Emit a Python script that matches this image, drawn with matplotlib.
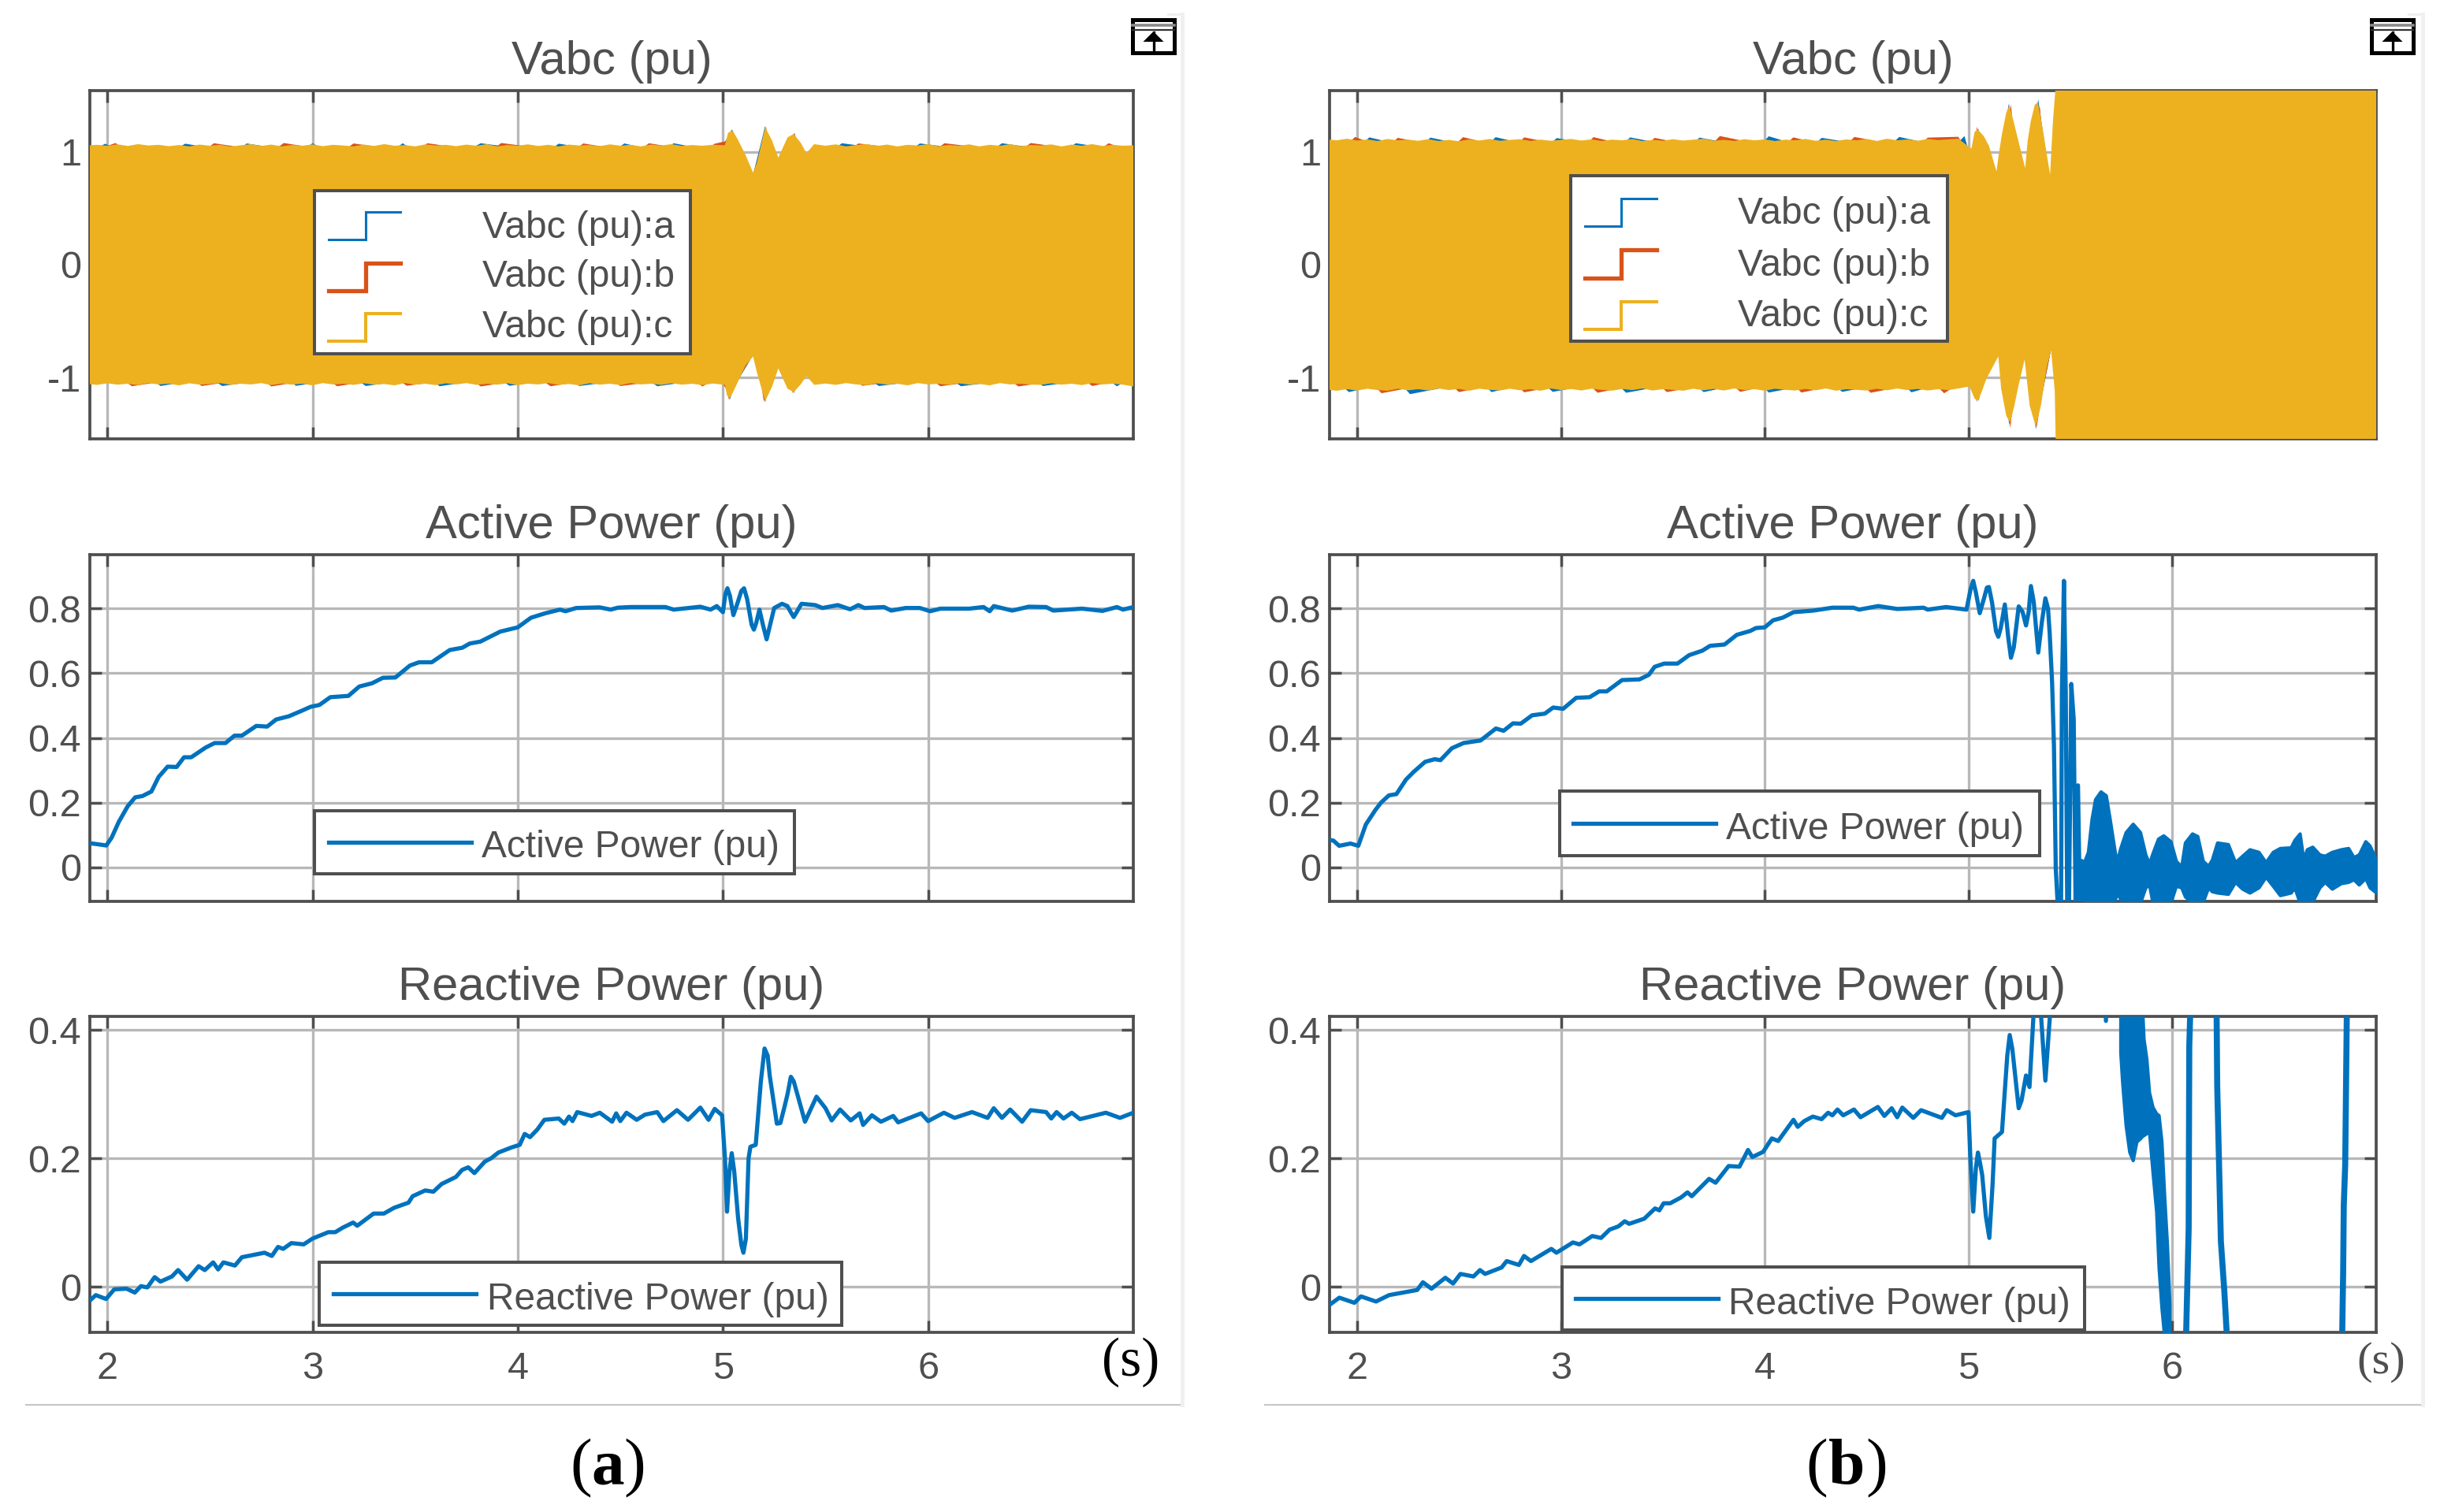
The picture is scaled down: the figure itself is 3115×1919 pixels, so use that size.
import matplotlib
matplotlib.use('Agg')
import matplotlib.pyplot as plt
from matplotlib.patches import Rectangle, Polygon
from matplotlib.lines import Line2D

plt.rcParams['font.family'] = ['Liberation Sans', 'DejaVu Sans']

W, H = 3115, 1919
GRAY = '#4f4f4f'
BLUE = '#0072BD'
ORANGE = '#D95319'
YELLOW = '#EDB120'

# ---- values ----
x_ticks = [2, 3, 4, 5, 6]
v_ticks = [-1, 0, 1]
v_labels = ['-1', '0', '1']
p_ticks = [0, 0.2, 0.4, 0.6, 0.8]
p_labels = ['0', '0.2', '0.4', '0.6', '0.8']
q_ticks = [0, 0.2, 0.4]
q_labels = ['0', '0.2', '0.4']

# (a) voltage envelopes
a_vc_up_t = [1.915, 1.95, 2.0, 2.05, 2.1, 2.15, 2.2, 2.25, 2.3, 2.35, 2.4, 2.45, 2.5, 2.55, 2.6, 2.65, 2.7, 2.75, 2.8, 2.85, 2.9, 2.95,
             3.0, 3.05, 3.1, 3.15, 3.2, 3.25, 3.3, 3.35, 3.4, 3.45, 3.5, 3.55, 3.6, 3.65, 3.7, 3.75, 3.8, 3.85, 3.9, 3.95,
             4.0, 4.05, 4.1, 4.15, 4.2, 4.25, 4.3, 4.35, 4.4, 4.45, 4.5, 4.55, 4.6, 4.65, 4.7, 4.75, 4.8, 4.85, 4.9, 4.95, 5.01,
             5.025, 5.047, 5.07, 5.11, 5.147, 5.165, 5.206, 5.24, 5.27, 5.315, 5.345, 5.38, 5.407, 5.445,
             5.5, 5.55, 5.6, 5.65, 5.7, 5.75, 5.8, 5.85, 5.9, 5.95, 6.0, 6.05, 6.1, 6.15, 6.2, 6.25, 6.3, 6.35, 6.4, 6.45, 6.5,
             6.55, 6.6, 6.65, 6.7, 6.75, 6.8, 6.85, 6.9, 6.95, 7.0]
a_vc_up_v = [1.06, 1.064, 1.056, 1.068, 1.054, 1.07, 1.058, 1.064, 1.052, 1.062, 1.05, 1.066, 1.056, 1.064, 1.048, 1.06, 1.07, 1.054, 1.066, 1.05, 1.062,
             1.056, 1.068, 1.052, 1.064, 1.058, 1.05, 1.066, 1.054, 1.07, 1.056, 1.062, 1.05, 1.068, 1.058, 1.064, 1.052, 1.066, 1.056, 1.07,
             1.05, 1.062, 1.056, 1.068, 1.054, 1.064, 1.05, 1.066, 1.058, 1.062, 1.052, 1.068, 1.056, 1.064, 1.05, 1.066, 1.058, 1.07, 1.054, 1.062, 1.056, 1.064, 1.06,
             1.17, 1.19, 1.12, 0.976, 0.817, 0.90, 1.22, 1.10, 0.95, 1.13, 1.16, 1.08, 0.99, 1.07,
             1.056, 1.068, 1.05, 1.062, 1.07, 1.054, 1.066, 1.05, 1.064, 1.058, 1.07, 1.052, 1.062, 1.056, 1.068, 1.05, 1.064, 1.056, 1.07, 1.052, 1.062,
             1.058, 1.068, 1.05, 1.066, 1.056, 1.07, 1.054, 1.064, 1.056, 1.06]
a_vc_lo_t = [1.915, 1.95, 2.0, 2.05, 2.1, 2.15, 2.2, 2.25, 2.3, 2.35, 2.4, 2.45, 2.5, 2.55, 2.6, 2.65, 2.7, 2.75, 2.8, 2.85, 2.9, 2.95,
             3.0, 3.05, 3.1, 3.15, 3.2, 3.25, 3.3, 3.35, 3.4, 3.45, 3.5, 3.55, 3.6, 3.65, 3.7, 3.75, 3.8, 3.85, 3.9, 3.95,
             4.0, 4.05, 4.1, 4.15, 4.2, 4.25, 4.3, 4.35, 4.4, 4.45, 4.5, 4.55, 4.6, 4.65, 4.7, 4.75, 4.8, 4.85, 4.9, 4.95, 5.01,
             5.02, 5.034, 5.055, 5.11, 5.147, 5.165, 5.206, 5.24, 5.27, 5.315, 5.345, 5.38, 5.407, 5.445,
             5.5, 5.55, 5.6, 5.65, 5.7, 5.75, 5.8, 5.85, 5.9, 5.95, 6.0, 6.05, 6.1, 6.15, 6.2, 6.25, 6.3, 6.35, 6.4, 6.45, 6.5,
             6.55, 6.6, 6.65, 6.7, 6.75, 6.8, 6.85, 6.9, 6.95, 7.0]
a_vc_lo_v = [-1.06, -1.066, -1.052, -1.064, -1.056, -1.068, -1.05, -1.062, -1.056, -1.07, -1.052, -1.064, -1.058, -1.05, -1.066, -1.056, -1.062, -1.05, -1.068, -1.054,
             -1.064, -1.056, -1.07, -1.05, -1.062, -1.056, -1.066, -1.052, -1.064, -1.058, -1.07, -1.05, -1.064, -1.056, -1.068, -1.052, -1.062, -1.05, -1.066, -1.056,
             -1.064, -1.052, -1.068, -1.056, -1.062, -1.05, -1.066, -1.058, -1.07, -1.052, -1.064, -1.056, -1.068, -1.05, -1.062, -1.056, -1.066, -1.052, -1.064, -1.056, -1.068, -1.054, -1.066,
             -1.16, -1.186, -1.11, -0.894, -0.814, -0.95, -1.21, -1.08, -0.92, -1.10, -1.13, -1.06, -0.987, -1.066,
             -1.054, -1.066, -1.05, -1.062, -1.068, -1.052, -1.064, -1.056, -1.07, -1.05, -1.062, -1.056, -1.066, -1.052, -1.064, -1.058, -1.07, -1.05, -1.062, -1.056, -1.064,
             -1.066, -1.052, -1.064, -1.056, -1.068, -1.05, -1.062, -1.056, -1.064, -1.08]
a_va_up_t = [1.915, 1.99, 2.07, 2.31, 2.38, 2.62, 2.68, 2.94, 3.0, 3.08, 3.38, 3.44, 3.5, 3.74, 3.82, 4.14, 4.2, 4.46, 4.52, 4.7, 4.76, 4.98,
             5.03, 5.045, 5.065, 5.147, 5.195, 5.205, 5.215, 5.27, 5.335, 5.345, 5.355, 5.407, 5.445, 5.52, 5.58, 5.9, 5.96, 6.3, 6.36, 6.66, 6.72, 7.0]
a_va_up_v = [1.0, 1.074, 1.0, 1.0, 1.074, 1.0, 1.076, 1.0, 1.078, 1.0, 1.0, 1.078, 1.0, 1.0, 1.078, 1.0, 1.074, 1.0, 1.076, 1.0, 1.078, 1.0,
             1.15, 1.2, 1.12, 0.8, 1.15, 1.23, 1.15, 0.9, 1.1, 1.17, 1.1, 0.95, 1.0, 1.0, 1.078, 1.0, 1.076, 1.0, 1.078, 1.0, 1.078, 1.0]
a_va_lo_t = [1.915, 2.2, 2.26, 2.5, 2.56, 2.86, 2.92, 3.2, 3.26, 3.56, 3.62, 3.9, 3.96, 4.24, 4.3, 4.62, 4.68, 4.98,
             5.02, 5.035, 5.05, 5.147, 5.195, 5.207, 5.22, 5.27, 5.335, 5.346, 5.36, 5.407, 5.445, 5.7, 5.76, 6.1, 6.16, 6.5, 6.56, 6.86, 6.92, 7.0]
a_va_lo_v = [-1.0, -1.0, -1.076, -1.0, -1.076, -1.0, -1.074, -1.0, -1.076, -1.0, -1.078, -1.0, -1.074, -1.0, -1.076, -1.0, -1.078, -1.0,
             -1.1, -1.195, -1.1, -0.8, -1.1, -1.22, -1.1, -0.9, -1.08, -1.14, -1.06, -0.95, -1.0, -1.0, -1.076, -1.0, -1.078, -1.0, -1.076, -1.0, -1.078, -1.0]
a_vb_up_t = [1.915, 2.04, 2.1, 2.46, 2.52, 2.8, 2.86, 3.14, 3.2, 3.5, 3.56, 3.86, 3.92, 4.26, 4.32, 4.58, 4.64, 4.9, 4.96,
             5.025, 5.04, 5.06, 5.147, 5.2, 5.21, 5.22, 5.27, 5.34, 5.35, 5.36, 5.407, 5.445, 5.6, 5.66, 6.02, 6.08, 6.44, 6.5, 6.82, 6.88, 7.0]
a_vb_up_v = [1.0, 1.08, 1.0, 1.0, 1.078, 1.0, 1.08, 1.0, 1.076, 1.0, 1.078, 1.0, 1.08, 1.0, 1.076, 1.0, 1.078, 1.0, 1.074,
             1.1, 1.195, 1.1, 0.8, 1.12, 1.23, 1.1, 0.9, 1.08, 1.17, 1.08, 0.95, 1.0, 1.0, 1.076, 1.0, 1.078, 1.0, 1.08, 1.0, 1.078, 1.0]
a_vb_lo_t = [1.915, 2.06, 2.12, 2.4, 2.46, 2.74, 2.8, 3.06, 3.12, 3.4, 3.46, 3.76, 3.82, 4.1, 4.16, 4.44, 4.5, 4.84, 4.9, 4.98,
             5.015, 5.03, 5.045, 5.147, 5.19, 5.2, 5.212, 5.27, 5.33, 5.34, 5.352, 5.407, 5.445, 5.62, 5.68, 6.0, 6.06, 6.38, 6.44, 6.74, 6.8, 7.0]
a_vb_lo_v = [-1.0, -1.0, -1.078, -1.0, -1.076, -1.0, -1.08, -1.0, -1.078, -1.0, -1.074, -1.0, -1.08, -1.0, -1.078, -1.0, -1.076, -1.0, -1.08, -1.0,
             -1.1, -1.2, -1.1, -0.8, -1.1, -1.22, -1.1, -0.9, -1.06, -1.14, -1.06, -0.95, -1.0, -1.0, -1.074, -1.0, -1.078, -1.0, -1.08, -1.0, -1.076, -1.0]

# (b) voltage envelopes
b_vc_up_t = [1.865, 1.9, 1.95, 2.0, 2.05, 2.1, 2.15, 2.2, 2.25, 2.3, 2.35, 2.4, 2.45, 2.5, 2.55, 2.6, 2.65, 2.7, 2.75, 2.8, 2.85, 2.9, 2.95,
             3.0, 3.05, 3.1, 3.15, 3.2, 3.25, 3.3, 3.35, 3.4, 3.45, 3.5, 3.55, 3.6, 3.65, 3.7, 3.75, 3.8, 3.85, 3.9, 3.95,
             4.0, 4.05, 4.1, 4.15, 4.2, 4.25, 4.3, 4.35, 4.4, 4.45, 4.5, 4.55, 4.6, 4.65, 4.7, 4.75, 4.8, 4.85, 4.9, 4.95,
             5.014, 5.03, 5.046, 5.075, 5.1, 5.137, 5.15, 5.164, 5.185, 5.2, 5.22, 5.243, 5.278, 5.29, 5.305, 5.325, 5.34, 5.36, 5.377, 5.40, 5.414, 5.428, 5.44, 7.0]
b_vc_up_v = [1.11, 1.104, 1.118, 1.102, 1.112, 1.098, 1.116, 1.104, 1.11, 1.1, 1.114, 1.098, 1.108, 1.096, 1.112, 1.102, 1.116, 1.1, 1.108, 1.114, 1.098, 1.11, 1.1,
             1.108, 1.116, 1.102, 1.112, 1.098, 1.11, 1.104, 1.116, 1.098, 1.108, 1.1, 1.114, 1.102, 1.11, 1.118, 1.1, 1.108, 1.098, 1.114, 1.104,
             1.112, 1.098, 1.11, 1.104, 1.116, 1.1, 1.11, 1.098, 1.112, 1.104, 1.116, 1.098, 1.118, 1.104, 1.112, 1.1, 1.116, 1.106, 1.112, 1.118,
             1.03, 1.18, 1.2, 1.14, 1.056, 0.83, 1.0, 1.16, 1.35, 1.41, 1.28, 1.11, 0.857, 1.1, 1.27, 1.42, 1.44, 1.25, 1.056, 0.80, 1.27, 1.6, 1.6, 1.6]
b_vc_lo_t = [1.865, 1.9, 1.95, 2.0, 2.05, 2.1, 2.15, 2.2, 2.25, 2.3, 2.35, 2.4, 2.45, 2.5, 2.55, 2.6, 2.65, 2.7, 2.75, 2.8, 2.85, 2.9, 2.95,
             3.0, 3.05, 3.1, 3.15, 3.2, 3.25, 3.3, 3.35, 3.4, 3.45, 3.5, 3.55, 3.6, 3.65, 3.7, 3.75, 3.8, 3.85, 3.9, 3.95,
             4.0, 4.05, 4.1, 4.15, 4.2, 4.25, 4.3, 4.35, 4.4, 4.45, 4.5, 4.55, 4.6, 4.65, 4.7, 4.75, 4.8, 4.85, 4.9, 4.95,
             5.005, 5.03, 5.049, 5.07, 5.088, 5.146, 5.16, 5.185, 5.204, 5.225, 5.243, 5.275, 5.3, 5.33, 5.355, 5.384, 5.405, 5.423, 5.428, 5.44, 7.0]
b_vc_lo_v = [-1.11, -1.118, -1.104, -1.116, -1.1, -1.112, -1.118, -1.1, -1.114, -1.104, -1.116, -1.098, -1.112, -1.102, -1.118, -1.1, -1.11, -1.116, -1.1, -1.114, -1.104, -1.118, -1.098,
             -1.112, -1.102, -1.116, -1.1, -1.11, -1.118, -1.102, -1.112, -1.098, -1.116, -1.104, -1.11, -1.118, -1.1, -1.114, -1.102, -1.116, -1.098, -1.112, -1.104,
             -1.118, -1.1, -1.11, -1.116, -1.102, -1.114, -1.098, -1.118, -1.104, -1.11, -1.116, -1.1, -1.114, -1.098, -1.112, -1.102, -1.116, -1.104, -1.112, -1.098,
             -1.08, -1.19, -1.2, -1.1, -1.01, -0.814, -1.1, -1.34, -1.4, -1.25, -1.09, -0.84, -1.25, -1.44, -1.25, -0.907, -0.76, -1.12, -1.6, -1.6, -1.6]
b_va_up_t = [1.865, 2.0, 2.06, 2.3, 2.36, 2.62, 2.68, 2.92, 2.98, 3.28, 3.34, 3.62, 3.68, 3.96, 4.02, 4.22, 4.28, 4.6, 4.66, 4.92, 4.98,
             5.01, 5.035, 5.048, 5.06, 5.137, 5.185, 5.198, 5.21, 5.278, 5.33, 5.342, 5.355, 5.40]
b_va_up_v = [1.03, 1.03, 1.13, 1.03, 1.128, 1.03, 1.132, 1.03, 1.124, 1.03, 1.13, 1.03, 1.128, 1.03, 1.14, 1.03, 1.126, 1.03, 1.134, 1.03, 1.142,
             0.95, 1.1, 1.21, 1.1, 0.8, 1.3, 1.43, 1.3, 0.8, 1.35, 1.465, 1.3, 0.75]
b_va_lo_t = [1.865, 1.9, 1.96, 2.2, 2.26, 2.6, 2.66, 2.9, 2.96, 3.26, 3.32, 3.64, 3.7, 3.96, 4.02, 4.32, 4.38, 4.66, 4.72, 4.92, 4.99,
             5.035, 5.05, 5.065, 5.146, 5.19, 5.2, 5.215, 5.275, 5.32, 5.33, 5.345, 5.405]
b_va_lo_v = [-1.03, -1.03, -1.13, -1.03, -1.148, -1.03, -1.13, -1.03, -1.128, -1.03, -1.136, -1.03, -1.13, -1.03, -1.134, -1.03, -1.128, -1.03, -1.132, -1.03, -1.03,
             -1.1, -1.21, -1.05, -0.8, -1.3, -1.42, -1.25, -0.8, -1.3, -1.46, -1.3, -0.75]
b_vb_up_t = [1.865, 1.93, 1.99, 2.14, 2.2, 2.46, 2.52, 2.76, 2.82, 3.1, 3.16, 3.4, 3.46, 3.72, 3.78, 4.08, 4.14, 4.38, 4.44, 4.74, 4.8, 4.95,
             5.01, 5.03, 5.042, 5.055, 5.137, 5.195, 5.208, 5.22, 5.278, 5.335, 5.35, 5.36, 5.40]
b_vb_up_v = [1.03, 1.03, 1.134, 1.03, 1.126, 1.03, 1.132, 1.03, 1.13, 1.03, 1.132, 1.03, 1.126, 1.03, 1.142, 1.03, 1.13, 1.03, 1.134, 1.03, 1.128, 1.135,
             0.95, 1.1, 1.225, 1.1, 0.8, 1.3, 1.42, 1.2, 0.8, 1.3, 1.4, 1.2, 0.75]
b_vb_lo_t = [1.865, 2.06, 2.12, 2.44, 2.5, 2.76, 2.82, 3.12, 3.18, 3.46, 3.52, 3.82, 3.88, 4.12, 4.18, 4.46, 4.52, 4.82, 4.88, 4.98,
             5.03, 5.04, 5.06, 5.146, 5.195, 5.205, 5.22, 5.275, 5.325, 5.335, 5.35, 5.405]
b_vb_lo_v = [-1.03, -1.03, -1.14, -1.03, -1.13, -1.03, -1.132, -1.03, -1.136, -1.03, -1.13, -1.03, -1.128, -1.03, -1.134, -1.03, -1.136, -1.03, -1.14, -1.03,
             -1.1, -1.22, -1.05, -0.8, -1.3, -1.45, -1.2, -0.8, -1.3, -1.44, -1.25, -0.75]

# (a) active power
a_p_t = [1.915, 1.951, 1.995, 2.021, 2.056, 2.100, 2.136, 2.171, 2.215, 2.25, 2.294, 2.338, 2.374, 2.409, 2.479, 2.523, 2.576,
         2.620, 2.656, 2.726, 2.779, 2.823, 2.885, 2.955, 2.990, 3.034, 3.087, 3.175, 3.228, 3.290, 3.343, 3.404, 3.475, 3.519,
         3.581, 3.669, 3.730, 3.766, 3.818, 3.915, 4.0, 4.065, 4.136, 4.206, 4.233, 4.285, 4.400, 4.453, 4.488, 4.55, 4.72, 4.76,
         4.89, 4.94, 4.97, 5.0, 5.012, 5.022, 5.034, 5.051, 5.07, 5.09, 5.103, 5.118, 5.14, 5.151, 5.162, 5.178, 5.195, 5.213, 5.23, 5.25, 5.288, 5.314, 5.33, 5.345, 5.36, 5.383, 5.45, 5.485, 5.56,
         5.62, 5.66, 5.69, 5.785, 5.82, 5.89, 5.96, 6.01, 6.06, 6.2, 6.27, 6.30, 6.32, 6.41, 6.49, 6.575, 6.61, 6.75, 6.85, 6.92,
         6.95, 7.0]
a_p_v = [0.074, 0.071, 0.067, 0.091, 0.140, 0.189, 0.216, 0.220, 0.234, 0.279, 0.311, 0.310, 0.340, 0.340, 0.370, 0.384, 0.384,
         0.407, 0.407, 0.437, 0.435, 0.457, 0.467, 0.486, 0.496, 0.502, 0.526, 0.530, 0.559, 0.569, 0.586, 0.587, 0.624, 0.634,
         0.634, 0.672, 0.679, 0.692, 0.698, 0.729, 0.742, 0.772, 0.786, 0.797, 0.792, 0.802, 0.804, 0.797, 0.803, 0.805, 0.805, 0.797,
         0.806, 0.797, 0.808, 0.789, 0.845, 0.863, 0.84, 0.78, 0.815, 0.855, 0.863, 0.83, 0.75, 0.735, 0.755, 0.797, 0.75, 0.705, 0.75, 0.802, 0.815, 0.808, 0.79, 0.774, 0.79, 0.815, 0.811, 0.802, 0.811,
         0.798, 0.811, 0.802, 0.805, 0.794, 0.802, 0.802, 0.792, 0.80, 0.80, 0.805, 0.792, 0.808, 0.794, 0.806, 0.805, 0.794, 0.80, 0.793, 0.805,
         0.797, 0.805]

# (a) reactive power
a_q_t = [1.92, 1.944, 1.994, 2.034, 2.094, 2.134, 2.164, 2.195, 2.231, 2.259, 2.315, 2.345, 2.389, 2.445, 2.475, 2.516, 2.54, 2.566,
         2.622, 2.656, 2.766, 2.802, 2.832, 2.857, 2.897, 2.957, 3.0, 3.077, 3.111, 3.147, 3.198, 3.218, 3.298, 3.348, 3.398, 3.468,
         3.488, 3.549, 3.589, 3.629, 3.699, 3.729, 3.759, 3.789, 3.84, 3.87, 3.906, 3.97, 4.01, 4.034, 4.06, 4.096, 4.13, 4.20, 4.227,
         4.25, 4.267, 4.29, 4.36, 4.40, 4.46, 4.48, 4.50, 4.53, 4.58, 4.62, 4.68, 4.71, 4.776, 4.83, 4.89, 4.93, 4.96, 4.996, 5.01,
         5.02, 5.032, 5.043, 5.055, 5.074, 5.09, 5.10, 5.112, 5.125, 5.134, 5.16, 5.185, 5.203, 5.218, 5.228, 5.263, 5.28, 5.30, 5.315, 5.331, 5.345, 5.40, 5.456, 5.50, 5.53, 5.571, 5.623, 5.666,
         5.683, 5.726, 5.77, 5.83, 5.854, 5.966, 6.0, 6.077, 6.129, 6.214, 6.29, 6.32, 6.36, 6.40, 6.458, 6.50, 6.575, 6.60, 6.626, 6.66,
         6.70, 6.74, 6.866, 6.935, 7.0]
a_q_v = [-0.02, -0.013, -0.019, -0.004, -0.003, -0.009, 0.001, -0.001, 0.015, 0.008, 0.016, 0.026, 0.011, 0.032, 0.026, 0.038, 0.027, 0.038,
         0.033, 0.046, 0.053, 0.048, 0.062, 0.059, 0.068, 0.066, 0.075, 0.085, 0.085, 0.092, 0.10, 0.095, 0.114, 0.114, 0.123, 0.131,
         0.141, 0.150, 0.148, 0.16, 0.171, 0.182, 0.186, 0.177, 0.195, 0.20, 0.209, 0.217, 0.221, 0.238, 0.233, 0.245, 0.26, 0.262, 0.254,
         0.265, 0.258, 0.272, 0.266, 0.271, 0.257, 0.27, 0.258, 0.271, 0.26, 0.268, 0.272, 0.258, 0.275, 0.26, 0.279, 0.26, 0.277, 0.267, 0.20,
         0.117, 0.18, 0.208, 0.18, 0.107, 0.065, 0.053, 0.075, 0.20, 0.218, 0.221, 0.32, 0.371, 0.36, 0.329, 0.254, 0.255, 0.28, 0.30, 0.327, 0.32, 0.257, 0.296, 0.278, 0.259, 0.276, 0.259, 0.27,
         0.252, 0.267, 0.257, 0.266, 0.256, 0.27, 0.258, 0.271, 0.263, 0.272, 0.263, 0.278, 0.263, 0.276, 0.257, 0.275, 0.272, 0.262, 0.272, 0.262,
         0.271, 0.261, 0.271, 0.263, 0.271]

# (b) active power, up to the point where it starts to ring
b_p_t = [1.865, 1.884, 1.912, 1.968, 2.006, 2.043, 2.09, 2.118, 2.156, 2.193, 2.24, 2.278, 2.334, 2.381, 2.409, 2.465, 2.522, 2.606,
         2.681, 2.719, 2.765, 2.803, 2.859, 2.921, 2.962, 3.011, 3.075, 3.141, 3.188, 3.225, 3.30, 3.385, 3.431, 3.46, 3.507, 3.572,
         3.629, 3.694, 3.732, 3.803, 3.863, 3.929, 3.957, 4.0, 4.041, 4.088, 4.141, 4.238, 4.332, 4.435, 4.463, 4.557, 4.651, 4.779,
         4.80, 4.89, 4.99, 5.01, 5.023, 5.036, 5.055, 5.075, 5.09, 5.10, 5.115, 5.135, 5.146, 5.158, 5.178, 5.195, 5.208, 5.222, 5.246, 5.265, 5.282, 5.295, 5.306, 5.32, 5.342, 5.36, 5.377, 5.39, 5.398, 5.41, 5.419, 5.428, 5.437,
         5.454, 5.458, 5.468, 5.477, 5.484, 5.493, 5.504, 5.516, 5.525, 5.537, 5.546, 5.556, 5.569]
b_p_v = [0.084, 0.082, 0.066, 0.073, 0.066, 0.132, 0.177, 0.20, 0.222, 0.226, 0.271, 0.295, 0.326, 0.334, 0.331, 0.368, 0.384, 0.392,
         0.429, 0.422, 0.445, 0.444, 0.47, 0.475, 0.494, 0.49, 0.524, 0.526, 0.544, 0.544, 0.579, 0.581, 0.595, 0.62, 0.63, 0.63,
         0.656, 0.67, 0.685, 0.689, 0.719, 0.731, 0.74, 0.742, 0.764, 0.772, 0.789, 0.794, 0.803, 0.803, 0.797, 0.808, 0.799, 0.803,
         0.797, 0.805, 0.797, 0.86, 0.886, 0.85, 0.786, 0.83, 0.865, 0.867, 0.82, 0.73, 0.713, 0.74, 0.813, 0.71, 0.648, 0.68, 0.807, 0.79, 0.748, 0.79, 0.87, 0.82, 0.664, 0.76, 0.832, 0.80, 0.725, 0.571, 0.376, -0.006, -0.11,
         -0.11, 0.539, 0.886, 0.539, -0.11, -0.11, 0.567, 0.457, -0.11, 0.253, -0.11, 0.019, -0.11]

# (b) active power, dense ringing envelope
b_ring_t = [5.569, 5.586, 5.604, 5.621, 5.648, 5.674, 5.692, 5.715, 5.727, 5.745, 5.771, 5.806, 5.842, 5.868, 5.886, 5.903, 5.93,
            5.956, 5.991, 6.018, 6.044, 6.062, 6.097, 6.123, 6.15, 6.176, 6.194, 6.22, 6.273, 6.308, 6.343, 6.379, 6.423, 6.458,
            6.493, 6.528, 6.581, 6.599, 6.625, 6.643, 6.66, 6.687, 6.722, 6.748, 6.783, 6.827, 6.863, 6.889, 6.915, 6.947, 6.968, 7.0]
b_ring_hi = [0.019, 0.047, 0.149, 0.21, 0.234, 0.222, 0.153, 0.059, 0.015, 0.059, 0.108, 0.134, 0.108, 0.039, 0.011, 0.043, 0.088,
             0.098, 0.08, 0.019, 0.002, 0.076, 0.104, 0.096, 0.019, 0.004, 0.023, 0.076, 0.071, 0.015, 0.035, 0.055, 0.047, 0.015,
             0.047, 0.059, 0.061, 0.084, 0.104, 0.023, 0.055, 0.063, 0.039, 0.035, 0.047, 0.055, 0.059, 0.031, 0.039, 0.08, 0.067, 0.023]
b_ring_lo = [-0.11, -0.11, -0.11, -0.11, -0.11, -0.11, -0.11, -0.11, -0.079, -0.099, -0.11, -0.11, -0.11, -0.063, -0.054, -0.11, -0.11,
             -0.11, -0.11, -0.058, -0.063, -0.091, -0.11, -0.11, -0.107, -0.063, -0.075, -0.079, -0.083, -0.046, -0.067, -0.079, -0.063, -0.03,
             -0.058, -0.087, -0.079, -0.063, -0.11, -0.11, -0.11, -0.107, -0.063, -0.046, -0.067, -0.05, -0.046, -0.038, -0.054, -0.034, -0.063, -0.079]

# (b) reactive power
b_q_t = [1.87, 1.913, 1.987, 2.019, 2.093, 2.157, 2.295, 2.323, 2.365, 2.433, 2.471, 2.507, 2.571, 2.603, 2.628, 2.709, 2.734, 2.794,
         2.819, 2.853, 2.953, 2.978, 3.059, 3.091, 3.154, 3.197, 3.239, 3.282, 3.313, 3.335, 3.409, 3.462, 3.483, 3.504, 3.536, 3.589,
         3.621, 3.642, 3.727, 3.759, 3.823, 3.876, 3.918, 3.939, 3.992, 4.035, 4.066, 4.141, 4.162, 4.194, 4.236, 4.279, 4.311, 4.332,
         4.357, 4.385, 4.438, 4.47, 4.555, 4.587, 4.623, 4.65, 4.675, 4.729, 4.767, 4.869, 4.893, 4.936, 5.0, 5.009, 5.023, 5.036, 5.046, 5.055, 5.067, 5.085,
         5.102, 5.118, 5.128, 5.164, 5.19, 5.202, 5.215, 5.246, 5.26, 5.282, 5.299, 5.32, 5.335, 5.354, 5.377, 5.401, 5.42, 5.66, 5.674, 5.69]
b_q_v = [-0.027, -0.017, -0.025, -0.015, -0.023, -0.013, -0.005, 0.007, -0.003, 0.014, 0.005, 0.02, 0.016, 0.026, 0.02, 0.03, 0.04, 0.034,
         0.048, 0.04, 0.059, 0.053, 0.069, 0.066, 0.079, 0.076, 0.089, 0.094, 0.102, 0.098, 0.106, 0.122, 0.119, 0.13, 0.13, 0.139,
         0.147, 0.141, 0.168, 0.162, 0.188, 0.187, 0.213, 0.202, 0.21, 0.231, 0.227, 0.26, 0.249, 0.258, 0.265, 0.261, 0.271, 0.267,
         0.276, 0.267, 0.276, 0.264, 0.28, 0.266, 0.278, 0.264, 0.279, 0.263, 0.275, 0.263, 0.275, 0.267, 0.272, 0.20, 0.117, 0.185, 0.209, 0.195, 0.174, 0.11,
         0.076, 0.16, 0.231, 0.241, 0.36, 0.392, 0.37, 0.278, 0.29, 0.329, 0.311, 0.43, 0.50, 0.43, 0.321, 0.43, 0.60, 0.60, 0.414, 0.60]

# (b) reactive power, dense block and the swings after it
b_block_t = [5.745, 5.754, 5.771, 5.789, 5.806, 5.824, 5.842, 5.85, 5.859, 5.873, 5.886, 5.903, 5.921, 5.933, 5.947, 5.961, 5.974, 5.986]
b_block_lo = [0.365, 0.319, 0.252, 0.21, 0.197, 0.226, 0.231, 0.234, 0.236, 0.239, 0.241, 0.179, 0.117, 0.029, -0.033, -0.08, -0.08, -0.08]
b_block_hi = [0.45, 0.45, 0.45, 0.45, 0.45, 0.45, 0.45, 0.45, 0.386, 0.355, 0.303, 0.28, 0.27, 0.267, 0.226, 0.138, 0.066, -0.027]
b_swing_t = [6.06, 6.067, 6.08, 6.083, 6.088, 6.15, 6.217, 6.22, 6.233, 6.238, 6.255, 6.268, 6.3, 6.8, 6.833, 6.838, 6.841, 6.848, 6.856, 6.9]
b_swing_v = [-0.12, -0.08, 0.09, 0.375, 0.43, 0.60, 0.43, 0.313, 0.138, 0.071, -0.007, -0.08, -0.12, -0.12, -0.08, 0.024, 0.127, 0.19, 0.43, 0.60]


def fx(x):
    return x / W


def fy(y):
    return 1 - y / H


def make_axes(left, right, top, bottom, xlim, ylim, yticks, ylabels, title, show_x):
    ax = fig.add_axes([fx(left), fy(bottom), (right - left) / W, (bottom - top) / H])
    ax.set_xlim(xlim)
    ax.set_ylim(ylim)
    ax.set_xticks(x_ticks)
    ax.set_yticks(yticks)
    ax.set_yticklabels(ylabels)
    ax.set_axisbelow(True)
    ax.grid(True, color='#b8b8b8', linewidth=2.4)
    ax.tick_params(direction='in', length=10.5, width=2.5, color=GRAY, top=True, right=True,
                   labelsize=35, labelcolor=GRAY, labelbottom=show_x)
    ax.tick_params(axis='x', pad=17)
    ax.tick_params(axis='y', pad=8)
    for s in ax.spines.values():
        s.set_color(GRAY)
        s.set_linewidth(2.7)
    ax.set_title(title, fontsize=43, color=GRAY, pad=15)
    return ax


def band(ax, up_t, up_v, lo_t, lo_v, color):
    ax.fill(list(up_t) + list(lo_t)[::-1], list(up_v) + list(lo_v)[::-1], color=color, linewidth=0, zorder=3)


def legend_box(x0, y0, x1, y1):
    fig.add_artist(Rectangle((fx(x0), fy(y1)), (x1 - x0) / W, (y1 - y0) / H, facecolor='white',
                             edgecolor=GRAY, linewidth=2.9, zorder=4))


def legend_line(x0, x1, y, label, text_x):
    fig.add_artist(Line2D([fx(x0), fx(x1)], [fy(y), fy(y)], color=BLUE, linewidth=3.8, zorder=5))
    fig.text(fx(text_x), fy(y + 7), label, fontsize=34.5, color=GRAY, va='center', ha='left', zorder=6)


def legend_step(x0, xm, x1, low, high, color, lw, label, text_left, text_y):
    fig.add_artist(Line2D([fx(x0), fx(xm), fx(xm), fx(x1)], [fy(low), fy(low), fy(high), fy(high)],
                          color=color, linewidth=lw, zorder=5, solid_joinstyle='miter'))
    fig.text(fx(text_left), fy(text_y + 4), label, fontsize=34.5, color=GRAY, va='center', ha='left', zorder=6)


def scope_icon(x0, y0, x1, y1):
    fig.add_artist(Rectangle((fx(x0), fy(y1)), (x1 - x0) / W, (y1 - y0) / H, facecolor='white',
                             edgecolor='black', linewidth=3.6, zorder=4))
    fig.add_artist(Line2D([fx(x0), fx(x1)], [fy(y0 + 7), fy(y0 + 7)], color='#8a8a8a', linewidth=2.6, zorder=5))
    fig.add_artist(Line2D([fx(x0), fx(x1)], [fy(y0 + 13), fy(y0 + 13)], color='#333333', linewidth=1.6, zorder=5))
    cx = (x0 + x1) / 2
    fig.add_artist(Line2D([fx(cx), fx(cx)], [fy(y0 + 16), fy(y1)], color='black', linewidth=2.4, zorder=5))
    fig.add_artist(Polygon([[fx(cx - 13), fy(y0 + 28)], [fx(cx), fy(y0 + 15)], [fx(cx + 13), fy(y0 + 28)]],
                           closed=True, facecolor='black', edgecolor='none', zorder=5))


def sublabel(cx, letter, half):
    fig.text(fx(cx), fy(1883), letter, fontsize=60, family='Liberation Serif', weight='bold', ha='center', color='black')
    fig.text(fx(cx - half), fy(1883), '(', fontsize=60, family='Liberation Serif', ha='right', color='black')
    fig.text(fx(cx + half), fy(1883), ')', fontsize=60, family='Liberation Serif', ha='left', color='black')


fig = plt.figure(figsize=(W / 100, H / 100), dpi=100, facecolor='white')

# panel frames
for x0, x1 in [(33, 1500), (1605, 3074)]:
    fig.add_artist(Line2D([fx(x0), fx(x1)], [fy(1783), fy(1783)], color='#c8c8c8', linewidth=1.6, zorder=1))
    fig.add_artist(Line2D([fx(x1), fx(x1)], [fy(18), fy(1783)], color='#f0f0f0', linewidth=3.6, zorder=1))
    fig.add_artist(Line2D([fx(x1 - 18), fx(x1)], [fy(18), fy(18)], color='#f0f0f0', linewidth=2.4, zorder=1))

L0, L1 = 114, 1438
R0, R1 = 1687, 3015
ROWS = [(115, 557), (704, 1144), (1290, 1691)]
a_lim = (1.915, 7.0)
b_lim = (1.865, 7.0)
v_lim = (-1.545, 1.545)
p_lim = (-0.106, 0.967)
q_lim = (-0.071, 0.421)

# left column
ax = make_axes(L0, L1, ROWS[0][0], ROWS[0][1], a_lim, v_lim, v_ticks, v_labels, 'Vabc (pu)', False)
band(ax, a_va_up_t, a_va_up_v, a_va_lo_t, a_va_lo_v, BLUE)
band(ax, a_vb_up_t, a_vb_up_v, a_vb_lo_t, a_vb_lo_v, ORANGE)
band(ax, a_vc_up_t, a_vc_up_v, a_vc_lo_t, a_vc_lo_v, YELLOW)

ax = make_axes(L0, L1, ROWS[1][0], ROWS[1][1], a_lim, p_lim, p_ticks, p_labels, 'Active Power (pu)', False)
ax.plot(a_p_t, a_p_v, color=BLUE, linewidth=3.8, zorder=3)

ax = make_axes(L0, L1, ROWS[2][0], ROWS[2][1], a_lim, q_lim, q_ticks, q_labels, 'Reactive Power (pu)', True)
ax.plot(a_q_t, a_q_v, color=BLUE, linewidth=3.8, zorder=3)

# right column
ax = make_axes(R0, R1, ROWS[0][0], ROWS[0][1], b_lim, v_lim, v_ticks, v_labels, 'Vabc (pu)', False)
band(ax, b_va_up_t, b_va_up_v, b_va_lo_t, b_va_lo_v, BLUE)
band(ax, b_vb_up_t, b_vb_up_v, b_vb_lo_t, b_vb_lo_v, ORANGE)
band(ax, b_vc_up_t, b_vc_up_v, b_vc_lo_t, b_vc_lo_v, YELLOW)

ax = make_axes(R0, R1, ROWS[1][0], ROWS[1][1], b_lim, p_lim, p_ticks, p_labels, 'Active Power (pu)', False)
ax.plot(b_p_t, b_p_v, color=BLUE, linewidth=3.8, zorder=3)
ax.fill_between(b_ring_t, b_ring_lo, b_ring_hi, color=BLUE, linewidth=3, zorder=3)

ax = make_axes(R0, R1, ROWS[2][0], ROWS[2][1], b_lim, q_lim, q_ticks, q_labels, 'Reactive Power (pu)', True)
ax.plot(b_q_t, b_q_v, color=BLUE, linewidth=3.8, zorder=3)
ax.fill_between(b_block_t, b_block_lo, b_block_hi, color=BLUE, linewidth=3, zorder=3)
ax.plot(b_swing_t, b_swing_v, color=BLUE, linewidth=5.5, zorder=3)

# legends
legend_box(399, 242, 876, 449)
legend_step(417, 464, 508, 304, 269, BLUE, 2.2, 'Vabc (pu):a', 612, 285)
legend_step(417, 464, 508, 369, 334, ORANGE, 3.8, 'Vabc (pu):b', 612, 348)
legend_step(417, 464, 508, 433, 398, YELLOW, 2.9, 'Vabc (pu):c', 612, 412)
legend_box(1993, 223, 2471, 433)
legend_step(2011, 2057, 2102, 287, 252, BLUE, 2.2, 'Vabc (pu):a', 2205, 267)
legend_step(2011, 2057, 2102, 353, 317, ORANGE, 3.8, 'Vabc (pu):b', 2205, 333)
legend_step(2011, 2057, 2102, 418, 383, YELLOW, 2.9, 'Vabc (pu):c', 2205, 398)

legend_box(399, 1029, 1008, 1109)
legend_line(417, 598, 1069, 'Active Power (pu)', 611)
legend_box(1979, 1004, 2588, 1086)
legend_line(1996, 2177, 1045, 'Active Power (pu)', 2190)
legend_box(405, 1602, 1068, 1682)
legend_line(423, 604, 1642, 'Reactive Power (pu)', 618)
legend_box(1982, 1608, 2645, 1688)
legend_line(1999, 2180, 1648, 'Reactive Power (pu)', 2193)

scope_icon(1437, 25, 1490, 67)
scope_icon(3009, 25, 3062, 67)

fig.text(fx(1435), fy(1729), '(s)', fontsize=50, family='Liberation Serif', color='black', ha='center', va='center')
fig.text(fx(3021), fy(1729), '(s)', fontsize=42, family='Liberation Serif', color=GRAY, ha='center', va='center')
sublabel(771, 'a', 20)
sublabel(2343, 'b', 24)

fig.savefig('out.png', dpi=100)
